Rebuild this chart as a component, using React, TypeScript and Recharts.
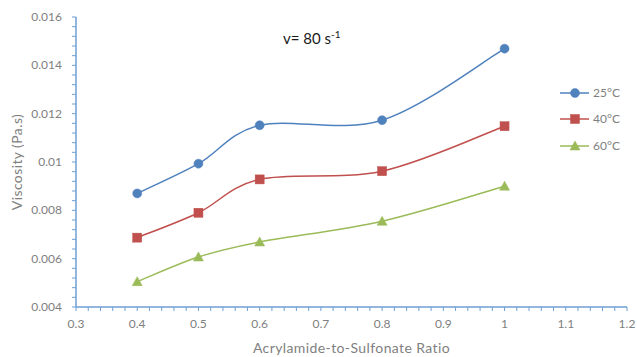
import React from 'react';
import { LineChart, Line, XAxis, YAxis, Legend, Customized, Label } from 'recharts';

const ratios = [0.4, 0.5, 0.6, 0.8, 1.0];
const visc25 = [0.0087, 0.00993, 0.01152, 0.01173, 0.01469];
const visc40 = [0.00687, 0.0079, 0.00928, 0.00962, 0.01148];
const visc60 = [0.00505, 0.00607, 0.00669, 0.00755, 0.009];
const seriesNames = ['25°C', '40°C', '60°C'];
const xMajorTicks = [0.3, 0.4, 0.5, 0.6, 0.7, 0.8, 0.9, 1.0, 1.1, 1.2];
const xTickLabels = ['0.3', '0.4', '0.5', '0.6', '0.7', '0.8', '0.9', '1', '1.1', '1.2'];
const yMajorTicks = [0.004, 0.006, 0.008, 0.01, 0.012, 0.014, 0.016];
const yTickLabels = ['0.004', '0.006', '0.008', '0.01', '0.012', '0.014', '0.016'];

const data = ratios.map((r, i) => ({ r, a: visc25[i], b: visc40[i], c: visc60[i] }));

const xMinor: number[] = [];
for (let i = 0; i <= 45; i++) xMinor.push(+(0.3 + i * 0.02).toFixed(2));
const yMinor: number[] = [];
for (let i = 0; i <= 30; i++) yMinor.push(+(0.004 + i * 0.0004).toFixed(4));

const FONT = 'Lato, "Open Sans", sans-serif';
const GRAY = '#7f7f7f';
const AXIS_BLUE = '#6d9fd6';
const BORDER = '#595959';
const C1 = '#4F81BD';
const C2 = '#C0504D';
const C3 = '#9BBB59';

const excelCurve: any = (context: any) => {
  let pts: number[][] = [];
  return {
    areaStart() {},
    areaEnd() {},
    lineStart() {
      pts = [];
    },
    point(x: number, y: number) {
      pts.push([+x, +y]);
    },
    lineEnd() {
      if (!pts.length) return;
      context.moveTo(pts[0][0], pts[0][1]);
      const t = 1 / 6;
      for (let i = 0; i < pts.length - 1; i++) {
        const p0 = pts[i - 1] || pts[i];
        const p1 = pts[i];
        const p2 = pts[i + 1];
        const p3 = pts[i + 2] || p2;
        context.bezierCurveTo(
          p1[0] + (p2[0] - p0[0]) * t,
          p1[1] + (p2[1] - p0[1]) * t,
          p2[0] - (p3[0] - p1[0]) * t,
          p2[1] - (p3[1] - p1[1]) * t,
          p2[0],
          p2[1]
        );
      }
    },
  };
};

const XTick = (props: any) => {
  const { x, y, payload } = props;
  const idx = xMajorTicks.findIndex((t) => Math.abs(t - payload.value) < 1e-6);
  if (idx < 0) return null;
  return (
    <text x={x} y={y} dy={15} textAnchor="middle" fill={GRAY} fontSize={12} fontFamily={FONT}>
      {xTickLabels[idx]}
    </text>
  );
};

const YTick = (props: any) => {
  const { x, y, payload } = props;
  const idx = yMajorTicks.findIndex((t) => Math.abs(t - payload.value) < 1e-7);
  if (idx < 0) return null;
  return (
    <text x={x} y={y} dy={4} textAnchor="end" fill={GRAY} fontSize={12} fontFamily={FONT}>
      {yTickLabels[idx]}
    </text>
  );
};

const markerShape = (kind: number, cx: number, cy: number, color: string, key?: any) => {
  if (kind === 0) return <circle key={key} cx={cx} cy={cy} r={4.5} fill={color} stroke={color} strokeWidth={0.5} />;
  if (kind === 1) return <rect key={key} x={cx - 4.5} y={cy - 4.5} width={9} height={9} fill={color} stroke={color} strokeWidth={0.5} />;
  return (
    <polygon key={key} points={`${cx},${cy - 5} ${cx + 5},${cy + 4} ${cx - 5},${cy + 4}`} fill={color} stroke={color} strokeWidth={0.5} />
  );
};

const makeDot = (kind: number, color: string) => (p: any) => markerShape(kind, p.cx, p.cy, color, p.key ?? `${p.index}`);

const legendColors = [C1, C2, C3];
const LegendContent = () => (
  <div style={{ fontFamily: FONT }}>
    {seriesNames.map((n, i) => (
      <svg key={n} width={80} height={i === 0 ? 26 : 27} style={{ display: 'block' }}>
        <line x1={4} x2={33} y1={11} y2={11} stroke={legendColors[i]} strokeWidth={1.5} />
        {markerShape(i, 19, 11, legendColors[i])}
        <text x={37} y={15} fontSize={12} fill={GRAY} fontFamily={FONT}>
          {n}
        </text>
      </svg>
    ))}
  </div>
);

const Annotation = () => (
  <text x={283} y={44} fontSize={15} fill="#1a1a1a" fontFamily={FONT}>
    <tspan>v= 80 s</tspan>
    <tspan dy={-6} fontSize={10}>-1</tspan>
  </text>
);

export default function App() {
  return (
    <div style={{ position: 'absolute', left: 0, top: 0, width: 637, height: 357, background: '#fff' }}>
      <LineChart width={637} height={357} data={data} margin={{ top: 17, right: 10, left: 10, bottom: 0 }}>
        <XAxis
          dataKey="r"
          type="number"
          domain={[0.3, 1.2]}
          ticks={xMinor}
          interval={0}
          allowDataOverflow
          height={50}
          tickSize={4}
          tickMargin={2}
          tick={<XTick />}
          tickLine={{ stroke: AXIS_BLUE, strokeWidth: 1 }}
          axisLine={{ stroke: AXIS_BLUE, strokeWidth: 1.5 }}
        >
          <Label
            value="Acrylamide-to-Sulfonate Ratio"
            position="insideBottom"
            offset={4}
            fill={GRAY}
            fontSize={14}
            fontFamily={FONT}
            style={{ letterSpacing: 0.4 }}
          />
        </XAxis>
        <XAxis
          xAxisId="top"
          orientation="top"
          type="number"
          domain={[0.3, 1.2]}
          height={0}
          tick={false}
          tickLine={false}
          axisLine={{ stroke: BORDER, strokeWidth: 1.5 }}
        />
        <YAxis
          type="number"
          domain={[0.004, 0.016]}
          ticks={yMinor}
          interval={0}
          allowDataOverflow
          width={66}
          tickSize={4}
          tickMargin={10}
          tick={<YTick />}
          tickLine={{ stroke: AXIS_BLUE, strokeWidth: 1 }}
          axisLine={{ stroke: AXIS_BLUE, strokeWidth: 1.5 }}
        >
          <Label
            value="Viscosity (Pa.s)"
            angle={-90}
            position="insideLeft"
            offset={7}
            fill={GRAY}
            fontSize={14}
            fontFamily={FONT}
            style={{ textAnchor: 'middle', letterSpacing: 0.4 }}
          />
        </YAxis>
        <YAxis
          yAxisId="right"
          orientation="right"
          type="number"
          domain={[0.004, 0.016]}
          width={0}
          tick={false}
          tickLine={false}
          axisLine={{ stroke: BORDER, strokeWidth: 1.5 }}
        />
        <Line
          dataKey="a"
          name={seriesNames[0]}
          type={excelCurve}
          stroke={C1}
          strokeWidth={1.5}
          dot={makeDot(0, C1)}
          activeDot={false}
          isAnimationActive={false}
        />
        <Line
          dataKey="b"
          name={seriesNames[1]}
          type={excelCurve}
          stroke={C2}
          strokeWidth={1.5}
          dot={makeDot(1, C2)}
          activeDot={false}
          isAnimationActive={false}
        />
        <Line
          dataKey="c"
          name={seriesNames[2]}
          type={excelCurve}
          stroke={C3}
          strokeWidth={1.5}
          dot={makeDot(2, C3)}
          activeDot={false}
          isAnimationActive={false}
        />
        <Legend
          layout="vertical"
          align="center"
          verticalAlign="middle"
          content={<LegendContent />}
          wrapperStyle={{ position: 'absolute', left: 556, top: 82, width: 80, height: 80 }}
        />
        <Customized component={Annotation} />
      </LineChart>
    </div>
  );
}
